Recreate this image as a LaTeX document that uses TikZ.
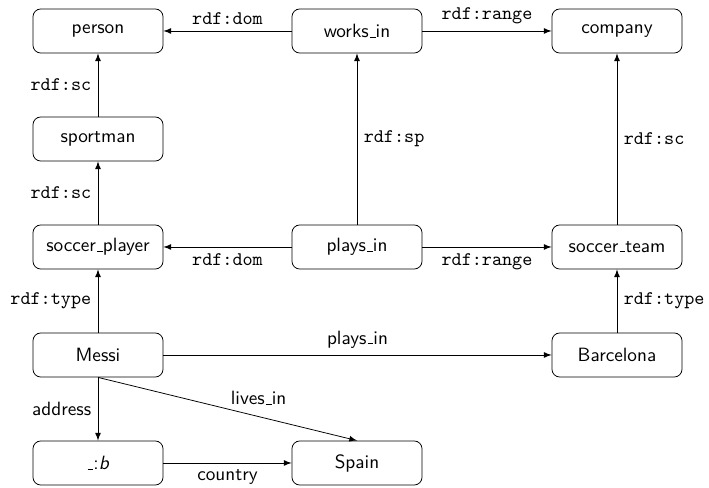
\documentclass[tikz,border=0pt]{standalone}
\usetikzlibrary{arrows}
\newcommand\usc{\leavevmode\kern.06em\vbox{\hrule width.3em height.5pt}}
\tikzset{
  res/.style={draw, rounded corners=4pt, minimum width=67.6pt, minimum height=22.9pt,
    inner sep=0pt, font=\sffamily},
  rel/.style={font=\ttfamily},
  lab/.style={font=\sffamily}
}
\begin{document}
\begin{tikzpicture}[x=0.52pt,y=-0.52pt]
      \useasboundingbox (0,0) rectangle (709,488);
      \node[res] (person) at (98,31) {person};
      \node[res] (worksin) at (357,31) {works\usc in};
      \node[res] (company) at (617,31) {company};
      \node[res] (sportman) at (98,139) {sportman};
      \node[res] (player) at (98,247) {soccer\usc player};
      \node[res] (playsin) at (357,247) {plays\usc in};
      \node[res] (team) at (617,247) {soccer\usc team};
      \node[res] (messi) at (98,355) {Messi};
      \node[res] (barca) at (617,355) {Barcelona};
      \node[res] (blank) at (98,463) {\usc:\textit{b}};
      \node[res] (spain) at (357,463) {Spain};
      \begin{scope}[-latex]
        \draw (worksin) to node[rel,above] {rdf:dom} (person);
        \draw (worksin) to node[rel,above] {rdf:range} (company);
        \draw (sportman) to node[rel,left] {rdf:sc} (person);
        \draw (player) to node[rel,left] {rdf:sc} (sportman);
        \draw (playsin) to node[rel,right] {rdf:sp} (worksin);
        \draw (team) to node[rel,right] {rdf:sc} (company);
        \draw (playsin) to node[rel,below] {rdf:dom} (player);
        \draw (playsin) to node[rel,below] {rdf:range} (team);
        \draw (messi) to node[rel,left] {rdf:type} (player);
        \draw (barca) to node[rel,right] {rdf:type} (team);
        \draw (messi) to node[lab,above] {plays\usc in} (barca);
        \draw (messi.south) to node[lab,left] {address} (blank);
        \draw (messi.south) to node[lab,above,pos=0.62,yshift=2.5pt] {lives\usc in} (spain.north);
        \draw (blank) to node[lab,below] {country} (spain);
      \end{scope}
    \end{tikzpicture}
\end{document}
